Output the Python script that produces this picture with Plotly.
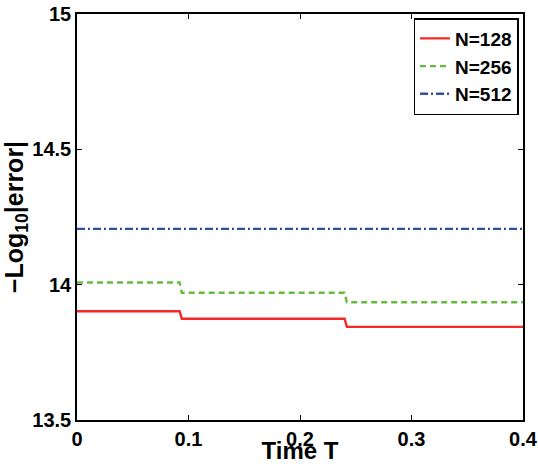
import plotly.graph_objects as go

t = [0, 0.092, 0.094, 0.240, 0.242, 0.4]
err_128 = [13.902, 13.902, 13.874, 13.874, 13.844, 13.844]
err_256 = [14.008, 14.008, 13.970, 13.970, 13.935, 13.935]
err_512 = [14.206, 14.206, 14.206, 14.206, 14.206, 14.206]
names = ["N=128", "N=256", "N=512"]
colors = ["#F42A2A", "#66BB3C", "#2F4FA0"]
dashes = ["solid", "6px,4px", "8px,3px,2px,3px"]

FONT = "Liberation Sans, Arial, sans-serif"
fig = go.Figure()
for y, n, c, d in zip([err_128, err_256, err_512], names, colors, dashes):
    fig.add_trace(go.Scatter(x=t, y=y, mode="lines", name=n,
                             line=dict(color=c, width=2.4, dash=d)))

axis_common = dict(showgrid=False, zeroline=False, showline=True, linecolor="black",
                   linewidth=1.5, mirror="allticks", ticks="inside", ticklen=5,
                   tickcolor="black", tickwidth=1,
                   tickfont=dict(family=FONT, size=20, color="black", weight="bold"))
fig.update_xaxes(range=[0, 0.4], dtick=0.1, tick0=0,
                 title=dict(text="Time T", font=dict(family=FONT, size=24, color="black", weight="bold"), standoff=2),
                 **axis_common)
fig.update_yaxes(range=[13.5, 15], dtick=0.5, tick0=13.5,
                 title=dict(text="\u2212Log<sub>10</sub>|error|", font=dict(family=FONT, size=25, color="black", weight="bold"), standoff=0),
                 **axis_common)
fig.update_layout(
    width=538, height=464,
    margin=dict(l=77, r=15, t=14, b=44, autoexpand=False),
    paper_bgcolor="white", plot_bgcolor="white",
    legend=dict(x=0.99, y=0.99, xanchor="right", yanchor="top",
                bordercolor="black", borderwidth=1.5, bgcolor="white",
                font=dict(family=FONT, size=19, color="black", weight="bold"),
                tracegroupgap=0, itemwidth=30),
    showlegend=True,
)
fig.write_html("out.html")
